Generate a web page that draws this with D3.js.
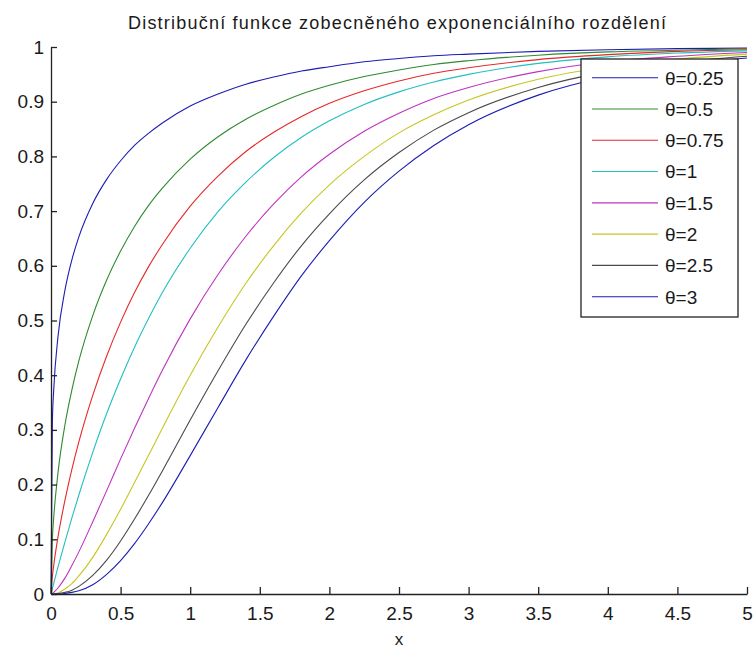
<!DOCTYPE html>
<html>
<head>
<meta charset="utf-8">
<script src="https://cdn.jsdelivr.net/npm/d3@7"></script>
<style>
  body { margin: 0; background: #fff; }
  text { font-family: "Liberation Sans", Arial, sans-serif; fill: #1a1a1a; }
</style>
</head>
<body>
<svg id="chart"></svg>
<script>
const xs = [0, 0.01, 0.02, 0.05, 0.1, 0.15, 0.2, 0.3, 0.4, 0.5, 0.6, 0.7, 0.8, 1.0, 1.2, 1.4,
            1.6, 1.8, 2.0, 2.25, 2.5, 2.75, 3.0, 3.5, 4.0, 4.5, 5.0];

// F(x) values for each theta
const theta025 = [0, 0.316, 0.375, 0.470, 0.555, 0.611, 0.653, 0.714, 0.758, 0.792, 0.820, 0.842, 0.861,
                  0.892, 0.914, 0.932, 0.945, 0.956, 0.964, 0.973, 0.979, 0.984, 0.987, 0.992, 0.995, 0.997, 0.998];
const theta05 = [0, 0.100, 0.141, 0.221, 0.309, 0.373, 0.426, 0.509, 0.574, 0.627, 0.672, 0.710, 0.742,
                 0.795, 0.836, 0.868, 0.893, 0.914, 0.930, 0.946, 0.958, 0.968, 0.975, 0.985, 0.991, 0.994, 0.997];
const theta075 = [0, 0.032, 0.053, 0.104, 0.171, 0.228, 0.278, 0.363, 0.435, 0.497, 0.551, 0.598, 0.639,
                  0.709, 0.764, 0.809, 0.844, 0.873, 0.897, 0.920, 0.938, 0.952, 0.962, 0.977, 0.986, 0.992, 0.995];
const theta1 = [0, 0.010, 0.020, 0.049, 0.095, 0.139, 0.181, 0.259, 0.330, 0.393, 0.451, 0.503, 0.551,
                0.632, 0.699, 0.753, 0.798, 0.835, 0.865, 0.895, 0.918, 0.936, 0.950, 0.970, 0.982, 0.989, 0.993];
const theta15 = [0, 0.001, 0.003, 0.011, 0.029, 0.052, 0.077, 0.132, 0.189, 0.247, 0.303, 0.357, 0.409,
                 0.503, 0.584, 0.654, 0.713, 0.763, 0.804, 0.846, 0.879, 0.906, 0.926, 0.955, 0.973, 0.983, 0.990];
const theta2 = [0, 0.000, 0.000, 0.002, 0.009, 0.019, 0.033, 0.067, 0.109, 0.155, 0.204, 0.253, 0.303,
                0.400, 0.488, 0.568, 0.637, 0.697, 0.748, 0.800, 0.843, 0.876, 0.903, 0.941, 0.964, 0.978, 0.987];
const theta25 = [0, 0.000, 0.000, 0.001, 0.003, 0.007, 0.014, 0.034, 0.062, 0.097, 0.137, 0.180, 0.225,
                 0.318, 0.408, 0.493, 0.569, 0.637, 0.695, 0.757, 0.807, 0.848, 0.880, 0.926, 0.955, 0.972, 0.983];
const theta3 = [0, 0.000, 0.000, 0.000, 0.001, 0.003, 0.006, 0.017, 0.036, 0.061, 0.092, 0.128, 0.167,
                0.253, 0.341, 0.428, 0.508, 0.582, 0.646, 0.716, 0.773, 0.820, 0.858, 0.912, 0.946, 0.967, 0.980];

const seriesNames = ['θ=0.25', 'θ=0.5', 'θ=0.75', 'θ=1', 'θ=1.5', 'θ=2', 'θ=2.5', 'θ=3'];
const seriesValues = [theta025, theta05, theta075, theta1, theta15, theta2, theta25, theta3];
const colors = ['#1c1cb4', '#2e8b2e', '#e62828', '#22bfbf', '#bf34bf', '#c6c622', '#4a4a4a', '#1c1cb4'];

const xTicks = [0, 0.5, 1, 1.5, 2, 2.5, 3, 3.5, 4, 4.5, 5];
const yTicks = [0, 0.1, 0.2, 0.3, 0.4, 0.5, 0.6, 0.7, 0.8, 0.9, 1];

const width = 755, height = 649;
const margin = { top: 47, right: 8, bottom: 55, left: 51 };

const svg = d3.select('#chart')
    .attr('width', width)
    .attr('height', height);

const xScale = d3.scaleLinear().domain([0, 5]).range([margin.left, width - margin.right]);
const yScale = d3.scaleLinear().domain([0, 1]).range([height - margin.bottom, margin.top]);

// curves
const line = d3.line()
    .x((d, i) => xScale(xs[i]))
    .y(d => yScale(d))
    .curve(d3.curveMonotoneX);

svg.append('g')
    .selectAll('path')
    .data(seriesValues)
    .enter()
    .append('path')
    .attr('d', d => line(d))
    .attr('fill', 'none')
    .attr('stroke', (d, i) => colors[i])
    .attr('stroke-width', 1.1);

// axes with inward ticks
const xAxis = svg.append('g')
    .attr('transform', `translate(0,${height - margin.bottom})`)
    .call(d3.axisBottom(xScale).tickValues(xTicks).tickFormat(d3.format('')).tickSizeInner(-7).tickSizeOuter(0).tickPadding(13));

const yAxis = svg.append('g')
    .attr('transform', `translate(${margin.left},0)`)
    .call(d3.axisLeft(yScale).tickValues(yTicks).tickFormat(d3.format('')).tickSizeInner(-6).tickSizeOuter(0).tickPadding(7));

[xAxis, yAxis].forEach(ax => {
    ax.attr('font-family', null).attr('font-size', null);
    ax.select('.domain').attr('stroke', '#222').attr('stroke-width', 1.3);
    ax.selectAll('.tick line').attr('stroke', '#222').attr('stroke-width', 1.3);
    ax.selectAll('.tick text').style('font-size', '19px').attr('fill', '#1a1a1a');
});

// title and axis label
svg.append('text')
    .attr('x', 128)
    .attr('y', 29)
    .attr('textLength', 538)
    .attr('lengthAdjust', 'spacing')
    .style('font-size', '18px')
    .text('Distribuční funkce zobecněného exponenciálního rozdělení');

svg.append('text')
    .attr('x', (margin.left + width - margin.right) / 2)
    .attr('y', 645)
    .attr('text-anchor', 'middle')
    .style('font-size', '17px')
    .text('x');

// legend
const legend = svg.append('g');
legend.append('rect')
    .attr('x', 581)
    .attr('y', 59)
    .attr('width', 157)
    .attr('height', 258)
    .attr('fill', '#fff')
    .attr('stroke', '#222')
    .attr('stroke-width', 1.3);

const legendY = d3.scalePoint().domain(seriesNames).range([77.7, 296.7]);

const items = legend.selectAll('.item')
    .data(seriesNames)
    .enter()
    .append('g')
    .attr('transform', d => `translate(0,${legendY(d)})`);

items.append('line')
    .attr('x1', 592)
    .attr('x2', 658)
    .attr('stroke', (d, i) => colors[i])
    .attr('stroke-width', 1.1);

items.append('text')
    .attr('x', 665)
    .attr('dy', '0.36em')
    .style('font-size', '19px')
    .text(d => d);
</script>
</body>
</html>
